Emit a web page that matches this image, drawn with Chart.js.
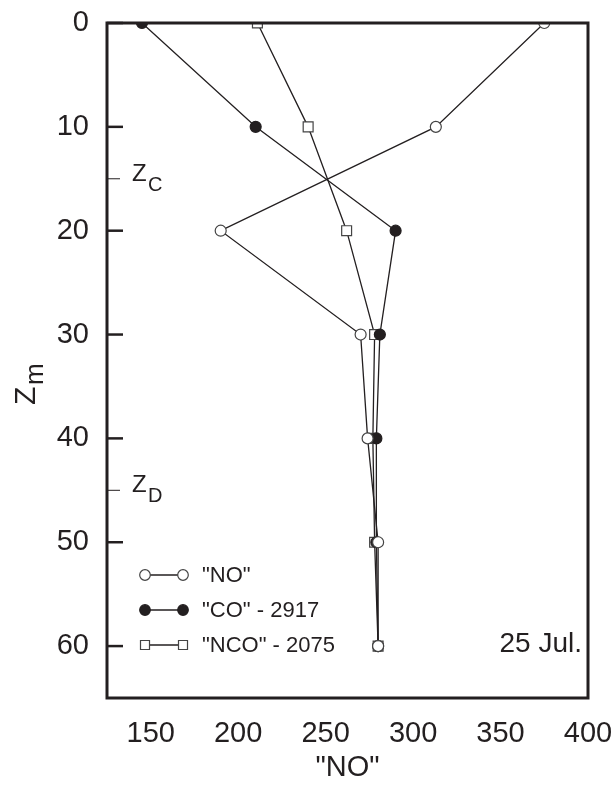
<!DOCTYPE html>
<html>
<head>
<meta charset="utf-8">
<script src="https://cdn.jsdelivr.net/npm/chart.js@4/dist/chart.umd.min.js"></script>
<style>
html,body{margin:0;padding:0;background:#fff;}
#wrap{width:616px;height:787px;position:relative;}
</style>
</head>
<body>
<div id="wrap"><canvas id="c" width="616" height="787"></canvas></div>
<script>
// ---- data ----
const depths = [0, 10, 20, 30, 40, 50, 60];
const noValues = [375, 313, 190, 270, 274, 280, 280];
const coValues = [145, 210, 290, 281, 279, 279, 280];
const ncoValues = [211, 240, 262, 278, 277, 278, 280];
const seriesLabels = ['"NO"', '"CO" - 2917', '"NCO" - 2075'];
const xTicks = [150, 200, 250, 300, 350, 400];
const yTicks = [0, 10, 20, 30, 40, 50, 60];
const minorDepths = [15, 45];
const minorLabels = ['C', 'D'];
const dateLabel = '25 Jul.';

const INK = '#231f20';
const FONT = '"Liberation Sans", Arial, Helvetica, sans-serif';

function pts(vals){ return vals.map((v,i)=>({x:v, y:depths[i]})); }

const datasets = [
  {label: seriesLabels[0], data: pts(noValues), borderColor: INK, borderWidth: 1.3,
   pointStyle: 'circle', pointRadius: 5.5, pointBackgroundColor: '#fff', pointBorderColor: '#444', pointBorderWidth: 1.2},
  {label: seriesLabels[1], data: pts(coValues), borderColor: INK, borderWidth: 1.3,
   pointStyle: 'circle', pointRadius: 5.5, pointBackgroundColor: INK, pointBorderColor: INK, pointBorderWidth: 1.2},
  {label: seriesLabels[2], data: pts(ncoValues), borderColor: INK, borderWidth: 1.3,
   pointStyle: 'rect', pointRadius: 7, pointBackgroundColor: '#fff', pointBorderColor: '#444', pointBorderWidth: 1.2}
];
datasets.forEach(d=>{ d.showLine = true; d.fill = false; d.tension = 0; });

const decor = {
  id: 'decor',
  afterDraw(chart){
    const ctx = chart.ctx, a = chart.chartArea;
    const ys = chart.scales.y;
    ctx.save();
    // frame
    ctx.strokeStyle = INK; ctx.lineWidth = 3;
    ctx.strokeRect(a.left, a.top, a.right - a.left, a.bottom - a.top);
    // inner ticks on y
    ctx.lineWidth = 2.5;
    yTicks.forEach(v=>{
      const y = ys.getPixelForValue(v);
      ctx.beginPath(); ctx.moveTo(a.left, y); ctx.lineTo(a.left + 16, y); ctx.stroke();
    });
    ctx.lineWidth = 1;
    minorDepths.forEach((v,i)=>{
      const y = ys.getPixelForValue(v);
      ctx.beginPath(); ctx.moveTo(a.left, y); ctx.lineTo(a.left + 13, y); ctx.stroke();
      ctx.fillStyle = INK; ctx.textBaseline = 'alphabetic'; ctx.textAlign = 'left';
      ctx.font = '24px ' + FONT;
      ctx.fillText('Z', a.left + 25, y + 2);
      ctx.font = '20px ' + FONT;
      ctx.fillText(minorLabels[i], a.left + 41, y + 12);
    });
    // axis titles
    ctx.fillStyle = INK;
    ctx.font = '29px ' + FONT;
    ctx.textAlign = 'center'; ctx.textBaseline = 'middle';
    ctx.fillText('"NO"', (a.left + a.right)/2, 768);
    ctx.save();
    ctx.translate(30, 375); ctx.rotate(-Math.PI/2);
    ctx.textAlign = 'left'; ctx.textBaseline = 'alphabetic';
    ctx.font = '30px ' + FONT;
    ctx.fillText('Z', -30, 5);
    ctx.font = '26px ' + FONT;
    ctx.fillText('m', -10, 13);
    ctx.restore();
    // date label
    ctx.font = '28px ' + FONT;
    ctx.textAlign = 'right'; ctx.textBaseline = 'middle';
    ctx.fillText(dateLabel, a.right - 6, ys.getPixelForValue(60) - 2);
    // legend
    const lx1 = 145, lx2 = 183, ly0 = 575, dy = 35;
    chart.data.datasets.forEach((d,i)=>{
      const y = ly0 + i*dy;
      ctx.strokeStyle = INK; ctx.lineWidth = 1.3;
      ctx.beginPath(); ctx.moveTo(lx1, y); ctx.lineTo(lx2, y); ctx.stroke();
      ctx.strokeStyle = d.pointBorderColor; ctx.lineWidth = 1.2;
      [lx1, lx2].forEach(x=>{
        ctx.beginPath();
        if (d.pointStyle === 'rect') { ctx.rect(x-4.5, y-4.5, 9, 9); }
        else { ctx.arc(x, y, 5.3, 0, Math.PI*2); }
        ctx.fillStyle = d.pointBackgroundColor; ctx.fill(); ctx.stroke();
      });
      ctx.fillStyle = INK; ctx.font = '22px ' + FONT;
      ctx.textAlign = 'left'; ctx.textBaseline = 'middle';
      ctx.fillText(d.label, 202, y + 1);
    });
    ctx.restore();
  }
};

new Chart(document.getElementById('c'), {
  type: 'scatter',
  data: {datasets},
  options: {
    responsive: false,
    animation: false,
    events: [],
    layout: {padding: {left: 0, top: 23, right: 28, bottom: 0}},
    plugins: {legend: {display: false}, tooltip: {enabled: false}},
    scales: {
      x: {
        type: 'linear', min: 125, max: 400,
        afterBuildTicks: s => { s.ticks = xTicks.map(v=>({value: v})); },
        afterFit: s => { s.height = 89; s.paddingLeft = 0; s.paddingRight = 0; },
        grid: {display: false, drawTicks: false},
        border: {display: false},
        ticks: {color: INK, font: {family: FONT, size: 29}, padding: 19, maxRotation: 0, autoSkip: false}
      },
      y: {
        type: 'linear', reverse: true, min: 0, max: 65,
        afterBuildTicks: s => { s.ticks = yTicks.map(v=>({value: v})); },
        afterFit: s => { s.width = 107; s.paddingTop = 0; s.paddingBottom = 0; },
        grid: {display: false, drawTicks: false},
        border: {display: false},
        ticks: {color: INK, font: {family: FONT, size: 29}, padding: 18, autoSkip: false}
      }
    }
  },
  plugins: [decor]
});
</script>
</body>
</html>
